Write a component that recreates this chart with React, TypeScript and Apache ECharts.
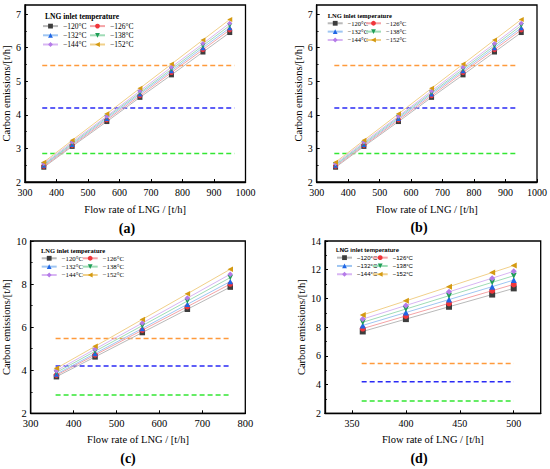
import React, { useEffect, useRef } from "react";
import * as echarts from "echarts";

const seriesNames = ["−120°C", "−126°C", "−132°C", "−138°C", "−144°C", "−152°C"];

// Panels (a) and (b)
const flowAB = [360, 450, 560, 665, 765, 865, 950];
const emisAB = [
  [2.44, 3.06, 3.8, 4.52, 5.19, 5.87, 6.45],
  [2.47, 3.09, 3.85, 4.57, 5.26, 5.94, 6.53],
  [2.5, 3.12, 3.89, 4.62, 5.31, 6.0, 6.59],
  [2.52, 3.15, 3.93, 4.66, 5.36, 6.06, 6.66],
  [2.55, 3.19, 3.96, 4.71, 5.42, 6.12, 6.73],
  [2.59, 3.24, 4.03, 4.79, 5.51, 6.23, 6.84],
];

// Panel (c)
const flowC = [360, 450, 560, 665, 765];
const emisC = [
  [3.7, 4.62, 5.75, 6.83, 7.86],
  [3.77, 4.71, 5.86, 6.95, 8.0],
  [3.82, 4.78, 5.94, 7.06, 8.12],
  [3.9, 4.88, 6.07, 7.21, 8.3],
  [3.98, 4.98, 6.19, 7.35, 8.46],
  [4.09, 5.11, 6.36, 7.55, 8.69],
];

// Panel (d)
const flowD = [360, 400, 440, 480, 500];
const emisD = [
  [7.7, 8.56, 9.42, 10.27, 10.7],
  [7.9, 8.78, 9.66, 10.54, 10.98],
  [8.12, 9.02, 9.92, 10.82, 11.28],
  [8.34, 9.26, 10.19, 11.12, 11.58],
  [8.56, 9.51, 10.46, 11.41, 11.89],
  [8.85, 9.83, 10.82, 11.8, 12.29],
];

// Horizontal dashed reference levels
const limitValues = [5.47, 4.2, 2.85];
const limitRangeA = [355, 965];
const limitRangeB = [356, 940];
const limitRangeC = [358, 766];
const limitRangeD = [359, 500];

// Tick labels
const xTicksAB = [300, 400, 500, 600, 700, 800, 900, 1000];
const yTicksAB = [2, 3, 4, 5, 6, 7];
const xTicksC = [300, 400, 500, 600, 700, 800];
const yTicksC = [2, 4, 6, 8, 10];
const xTicksD = [350, 400, 450, 500];
const yTicksD = [2, 4, 6, 8, 10, 12, 14];

const panelLabels = ["(a)", "(b)", "(c)", "(d)"];
const legendTitle = "LNG inlet temperature";
const xName = "Flow rate of LNG / [t/h]";
const yName = "Carbon emissions/[t/h]";

const markerColors = ["#3d3d3d", "#f0353a", "#1f66e5", "#1f9e57", "#b57be8", "#d49a12"];
const lineColors = ["#b9b9b9", "#f4a3a6", "#9fc6f2", "#9fdcb6", "#d8b6f3", "#f1d08a"];
const symbols = ["rect", "circle", "triangle", "triangle", "diamond", "triangle"];
const rotations = [0, 0, 0, 180, 0, 90];
const limitColors = ["#ff9a3c", "#2a2af5", "#33e633"];

const SERIF = "Liberation Serif";
const SANS = "Liberation Sans";

export default function App() {
  const ref = useRef<HTMLDivElement>(null);

  useEffect(() => {
    if (!ref.current) return;
    const chart = echarts.init(ref.current, null, { renderer: "svg" });

    const grids = [
      { left: 24.3, top: 5, width: 221.2, height: 177 },
      { left: 316.7, top: 5, width: 220.3, height: 177 },
      { left: 30.7, top: 241, width: 214.6, height: 172.3 },
      { left: 325, top: 241, width: 215.7, height: 172.3 },
    ].map((g) => ({ ...g, show: true, borderColor: "#000", borderWidth: 1.3, backgroundColor: "transparent" }));

    const xCfg = [
      { min: 300, max: 1000, ticks: xTicksAB, gap: 22, fs: 10 },
      { min: 300, max: 1000, ticks: xTicksAB, gap: 22, fs: 10 },
      { min: 300, max: 800, ticks: xTicksC, gap: 20.5, fs: 10.5 },
      { min: 325, max: 525, ticks: xTicksD, gap: 20.5, fs: 10 },
    ];
    const yCfg = [
      { min: 2, max: 7.27, interval: 1, ticks: yTicksAB, gap: 12, fs: 10 },
      { min: 2, max: 7.27, interval: 1, ticks: yTicksAB, gap: 11.5, fs: 10 },
      { min: 2, max: 10, interval: 2, ticks: yTicksC, gap: 18, fs: 10.5 },
      { min: 2, max: 14, interval: 2, ticks: yTicksD, gap: 15.5, fs: 10 },
    ];

    const axisLine = { show: true, onZero: false, lineStyle: { color: "#000", width: 1.3 } };
    const plain = (v: number) => String(v);

    const xAxis = xCfg.map((c, i) => ({
      type: "value",
      gridIndex: i,
      min: c.min,
      max: c.max,
      name: xName,
      nameLocation: "middle",
      nameGap: c.gap,
      nameTextStyle: { fontFamily: SERIF, fontSize: 10.5, color: "#000" },
      axisLine,
      axisTick: { show: true, inside: true, length: 3, customValues: c.ticks, lineStyle: { color: "#000", width: 1 } },
      axisLabel: { show: true, customValues: c.ticks, formatter: plain, fontFamily: SERIF, fontSize: c.fs, color: "#000", margin: 5 },
      splitLine: { show: false },
    }));

    const yAxis = yCfg.map((c, i) => ({
      type: "value",
      gridIndex: i,
      min: c.min,
      max: c.max,
      interval: c.interval,
      name: yName,
      nameLocation: "middle",
      nameGap: c.gap,
      nameTextStyle: { fontFamily: SERIF, fontSize: 10.5, color: "#000" },
      axisLine,
      axisTick: { show: true, inside: true, length: 3, customValues: c.ticks, lineStyle: { color: "#000", width: 1 } },
      minorTick: { show: true, splitNumber: 2, length: 2, lineStyle: { color: "#000", width: 0.8 } },
      axisLabel: { show: true, customValues: c.ticks, formatter: plain, fontFamily: SERIF, fontSize: c.fs, color: "#000", margin: 4 },
      splitLine: { show: false },
      minorSplitLine: { show: false },
    }));

    const panels = [
      { xs: flowAB, ys: emisAB, range: limitRangeA, size: 5 },
      { xs: flowAB, ys: emisAB, range: limitRangeB, size: 5 },
      { xs: flowC, ys: emisC, range: limitRangeC, size: 5.5 },
      { xs: flowD, ys: emisD, range: limitRangeD, size: 6 },
    ];

    const series: any[] = [];
    panels.forEach((p, gi) => {
      limitValues.forEach((v, k) => {
        series.push({
          type: "line",
          name: "limit" + k,
          xAxisIndex: gi,
          yAxisIndex: gi,
          data: [
            [p.range[0], v],
            [p.range[1], v],
          ],
          symbol: "none",
          silent: true,
          lineStyle: { color: limitColors[k], width: 1.5, type: [5, 3] },
          z: 2,
        });
      });
      p.ys.forEach((ys, i) => {
        series.push({
          type: "line",
          name: seriesNames[i],
          xAxisIndex: gi,
          yAxisIndex: gi,
          data: p.xs.map((x, j) => [x, ys[j]]),
          symbol: symbols[i],
          symbolRotate: rotations[i],
          symbolSize: p.size,
          showSymbol: true,
          itemStyle: { color: markerColors[i] },
          lineStyle: { color: lineColors[i], width: 1 },
          z: 3,
        });
      });
    });

    const legCfg = [
      { c1: 42, c2: 89, top: 21.5, fs: 7.5, lh: 9.2, font: SERIF },
      { c1: 326.7, c2: 365, top: 19.1, fs: 6.5, lh: 8.35, font: SERIF },
      { c1: 40.7, c2: 81.7, top: 254.1, fs: 6.8, lh: 8.35, font: SERIF },
      { c1: 336, c2: 371.7, top: 253.5, fs: 6, lh: 8.3, font: SANS },
    ];
    const legend: any[] = [];
    legCfg.forEach((l) => {
      [
        [seriesNames[0], seriesNames[2], seriesNames[4]],
        [seriesNames[1], seriesNames[3], seriesNames[5]],
      ].forEach((names, col) => {
        legend.push({
          show: true,
          orient: "vertical",
          left: col === 0 ? l.c1 : l.c2,
          top: l.top,
          padding: 0,
          itemGap: 0,
          itemWidth: 15,
          itemHeight: 6,
          selectedMode: false,
          data: names,
          textStyle: { fontFamily: l.font, fontSize: l.fs, lineHeight: l.lh, color: "#000" },
        });
      });
    });

    const titleCfg = [
      { x: 45, y: 16.7, fs: 7.5, font: SERIF },
      { x: 327.7, y: 15, fs: 6.5, font: SERIF },
      { x: 41, y: 250, fs: 6.5, font: SERIF },
      { x: 336, y: 250, fs: 6, font: SANS },
    ];
    const labelPos = [
      { x: 127, y: 228 },
      { x: 419, y: 227 },
      { x: 128, y: 458 },
      { x: 419, y: 458 },
    ];
    const graphic: any[] = [];
    titleCfg.forEach((t) => {
      graphic.push({
        type: "text",
        x: t.x,
        y: t.y,
        style: {
          text: legendTitle,
          fontFamily: t.font,
          fontSize: t.fs,
          fontWeight: "bold",
          fill: "#000",
          verticalAlign: "middle",
          align: "left",
        },
      });
    });
    labelPos.forEach((p, i) => {
      graphic.push({
        type: "text",
        x: p.x,
        y: p.y,
        style: {
          text: panelLabels[i],
          fontFamily: SERIF,
          fontSize: 14,
          fontWeight: "bold",
          fill: "#000",
          verticalAlign: "middle",
          align: "center",
        },
      });
    });

    chart.setOption({
      animation: false,
      backgroundColor: "#fff",
      grid: grids,
      xAxis,
      yAxis,
      legend,
      series,
      graphic,
    });

    return () => chart.dispose();
  }, []);

  return (
    <div
      ref={ref}
      style={{ position: "absolute", left: 0, top: 0, width: 550, height: 469, background: "#fff" }}
    />
  );
}
